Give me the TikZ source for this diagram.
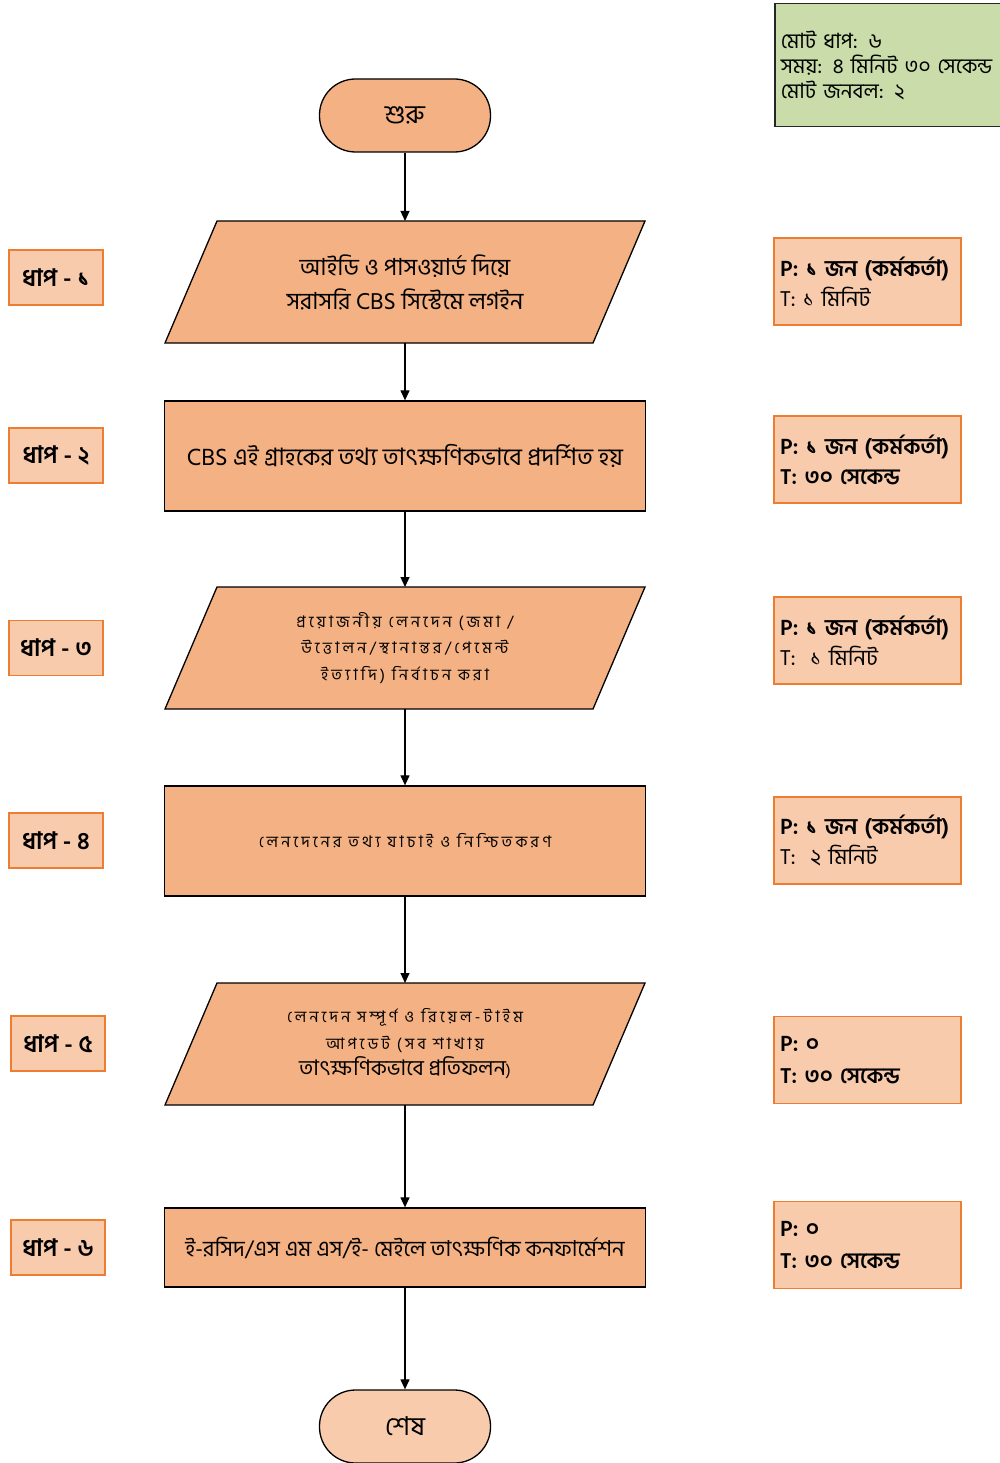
\documentclass[tikz,border=0pt]{standalone}
\usepackage{fontspec}
\setmainfont[Script=Bengali]{Hind Siliguri}
\newfontfamily\spaced[Script=Bengali,LetterSpace=20]{Hind Siliguri}
\usetikzlibrary{arrows.meta,backgrounds}
\definecolor{procfill}{HTML}{F4B183}
\definecolor{lightfill}{HTML}{F8CBAD}
\definecolor{orangeline}{HTML}{ED7D31}
\definecolor{summfill}{HTML}{C9DCA9}
\newcommand{\fs}[2]{\fontsize{#1}{#2}\selectfont}
\newcommand{\pline}[1]{\mbox{\fs{22.5}{30}\bfseries #1}}
\tikzset{
  term/.style={draw=black, line width=1.3pt, rounded corners=36pt,
    minimum width=171pt, minimum height=73pt, inner sep=0pt, font=\fs{26}{30}},
  procbox/.style={draw=black, fill=procfill, line width=1.3pt,
    minimum width=481pt, minimum height=110pt, inner sep=0pt, align=center},
  iobody/.style={minimum width=428pt, minimum height=122pt, inner sep=0pt,
    outer sep=0pt, align=center},
  iobox/.style={draw=black, fill=procfill, line width=1.3pt, line join=miter},
  steplabel/.style={draw=orangeline, fill=lightfill, line width=1.3pt,
    minimum width=94pt, minimum height=55pt, inner sep=0pt,
    font=\fs{24}{28}\bfseries},
  infobox/.style={draw=orangeline, fill=lightfill, line width=1.3pt,
    minimum width=187pt, minimum height=87pt, text width=175pt, inner xsep=6pt,
    inner ysep=0pt, align=left, font=\fs{22}{30}},
  summbox/.style={draw=black!85, fill=summfill, line width=1.5pt,
    minimum width=236pt, minimum height=123pt, text width=224pt, inner xsep=6pt,
    inner ysep=0pt, align=left, font=\fs{21}{25}},
  flow/.style={-{Triangle[length=10pt,width=9pt]}, line width=1.2pt}
}
\begin{document}
\begin{tikzpicture}[x=1pt,y=-1pt]
\useasboundingbox (0,0) rectangle (999,1463);

% summary
\node[summbox, anchor=north west] (summary) at (774,3)
  {মোট ধাপ: ৬\\ সময়: ৪ মিনিট ৩০ সেকেন্ড\\ মোট জনবল: ২};

% main flow
\node[term, fill=procfill] (start) at (405,115.5) {শুরু};

\node[iobody, font=\fs{23.5}{34}] (s1) at (405,282)
  {আইডি ও পাসওয়ার্ড দিয়ে\\ সরাসরি CBS সিস্টেমে লগইন};

\node[procbox, font=\fs{24}{28}] (s2) at (405,456)
  {CBS এই গ্রাহকের তথ্য তাৎক্ষণিকভাবে প্রদর্শিত হয়};

\node[iobody, font=\spaced\fs{16}{26.5}] (s3) at (405,648)
  {প্রয়োজনীয় লেনদেন (জমা /\\ উত্তোলন/স্থানান্তর/পেমেন্ট\\ ইত্যাদি) নির্বাচন করা};

\node[procbox, font=\spaced\fs{16}{26}] (s4) at (405,841)
  {লেনদেনের তথ্য যাচাই ও নিশ্চিতকরণ};

\node[iobody, font=\spaced\fs{16}{26.5}] (s5) at (405,1044)
  {লেনদেন সম্পূর্ণ ও রিয়েল-টাইম\\
   আপডেট (সব শাখায়\\
   {\normalfont\fs{21.5}{26.5}তাৎক্ষণিকভাবে প্রতিফলন}{\spaced\fs{16}{26.5})}};

\node[procbox, minimum height=79pt, font=\fs{22}{26}] (s6) at (405,1247.5)
  {ই-রসিদ/এস এম এস/ই- মেইলে তাৎক্ষণিক কনফার্মেশন};

\node[term, fill=lightfill] (end) at (405,1426.5) {শেষ};

% parallelogram outlines behind the input/output steps
\begin{scope}[on background layer]
  \foreach \n in {s1,s3,s5}{
    \draw[iobox] ([xshift=-26pt]\n.south west) -- ([xshift=-26pt]\n.south east)
      -- ([xshift=26pt]\n.north east) -- ([xshift=26pt]\n.north west) -- cycle;
  }
\end{scope}

% connectors
\draw[flow] (start) -- (s1);
\draw[flow] (s1) -- (s2);
\draw[flow] (s2) -- (s3);
\draw[flow] (s3) -- (s4);
\draw[flow] (s4) -- (s5);
\draw[flow] (s5) -- (s6);
\draw[flow] (s6) -- (end);

% step labels
\node[steplabel] (l1) at (56,277.5) {ধাপ - ১};
\node[steplabel] (l2) at (56,455.5) {ধাপ - ২};
\node[steplabel] (l3) at (56,648) {ধাপ - ৩};
\node[steplabel] (l4) at (56,840.5) {ধাপ - ৪};
\node[steplabel] (l5) at (58,1043.5) {ধাপ - ৫};
\node[steplabel] (l6) at (58,1247.5) {ধাপ - ৬};

% resources and time per step
\node[infobox] (i1) at (867.5,281.5)
  {\pline{P: ১ জন (কর্মকর্তা)}\\ T: ১ মিনিট};
\node[infobox] (i2) at (867.5,459.5)
  {\pline{P: ১ জন (কর্মকর্তা)}\\ {\bfseries T: ৩০ সেকেন্ড}};
\node[infobox] (i3) at (867.5,640.5)
  {\pline{P: ১ জন (কর্মকর্তা)}\\ T:~ ১ মিনিট};
\node[infobox] (i4) at (867.5,840.5)
  {\pline{P: ১ জন (কর্মকর্তা)}\\ T:~ ২ মিনিট};
\node[infobox, font=\fs{22}{32}] (i5) at (867.5,1060)
  {\pline{P: ০}\\ {\bfseries T: ৩০ সেকেন্ড}};
\node[infobox, font=\fs{22}{32}] (i6) at (867.5,1245)
  {\pline{P: ০}\\ {\bfseries T: ৩০ সেকেন্ড}};
\end{tikzpicture}
\end{document}
